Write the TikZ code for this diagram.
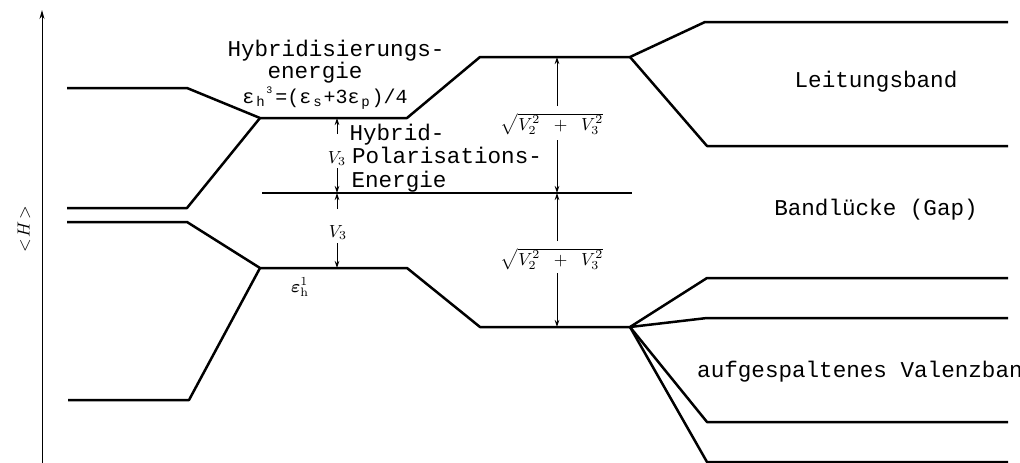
\documentclass[tikz,border=0pt]{standalone}
\usepackage{amsmath}
\usepackage{fontspec}
\setmonofont{Liberation Mono}
\usetikzlibrary{arrows.meta}
\newcommand\tsub[1]{\makebox[0.6em]{\raisebox{-0.3ex}{\fontsize{14}{14}\selectfont #1}}}
\newcommand\tsup[1]{\makebox[0.45em][l]{\raisebox{0.9ex}{\fontsize{10}{10}\selectfont #1}}}
\newcommand\bigmath[1]{\scalebox{1.75}{$#1$}}
\begin{document}
\begin{tikzpicture}[x=1pt,y=-1pt,
  level/.style={line width=2.5pt, line join=round},
  midline/.style={line width=1.6pt},
  dim/.style={line width=0.8pt, -{Stealth[length=7pt,width=4.5pt]}},
  lab/.style={font=\ttfamily\fontsize{22.6}{24}\selectfont, inner sep=0pt, anchor=base},
  flab/.style={font=\ttfamily\fontsize{20}{24}\selectfont, inner sep=0pt, anchor=base},
  mlab/.style={inner sep=0pt, anchor=base}]
\useasboundingbox (0,0) rectangle (1020,463);
% axis
\coordinate (axb) at (42,463);
\coordinate (axt) at (42,10);
\draw[line width=1pt, -{Stealth[length=9pt,width=5pt]}] (axb) -- (axt);
\node[rotate=90, inner sep=0pt] (H) at (24,229) {\bigmath{<\!H\!>}};
% atomic levels
\coordinate (s1a) at (67,88);  \coordinate (s1b) at (187,88);
\coordinate (p1a) at (67,208); \coordinate (p1b) at (187,208);
\coordinate (s2a) at (67,222); \coordinate (s2b) at (187,222);
\coordinate (p2a) at (68,400); \coordinate (p2b) at (189,400);
% hybrid levels
\coordinate (h1a) at (260,118); \coordinate (h1b) at (407,118);
\coordinate (h2a) at (260,268); \coordinate (h2b) at (407,268);
% bonding / antibonding
\coordinate (b1a) at (480,57);  \coordinate (b1b) at (630,57);
\coordinate (b2a) at (480,327); \coordinate (b2b) at (630,327);
% bands
\coordinate (c1a) at (705,22);  \coordinate (c1b) at (1008,22);
\coordinate (c2a) at (707,146); \coordinate (c2b) at (1008,146);
\coordinate (v1a) at (707,278); \coordinate (v1b) at (1008,278);
\coordinate (v2a) at (707,318); \coordinate (v2b) at (1008,318);
\coordinate (v3a) at (707,422); \coordinate (v3b) at (1008,422);
\coordinate (v4a) at (707,462); \coordinate (v4b) at (1008,462);
% middle
\coordinate (m1) at (262,193); \coordinate (m2) at (632,193);

\draw[level] (s1a) -- (s1b) -- (h1a) -- (h1b) -- (b1a) -- (b1b) -- (c1a) -- (c1b);
\draw[level] (p1a) -- (p1b) -- (h1a);
\draw[level] (b1b) -- (c2a) -- (c2b);
\draw[level] (s2a) -- (s2b) -- (h2a) -- (h2b) -- (b2a) -- (b2b) -- (v1a) -- (v1b);
\draw[level] (p2a) -- (p2b) -- (h2a);
\draw[level] (b2b) -- (v2a) -- (v2b);
\draw[level] (b2b) -- (v3a) -- (v3b);
\draw[level] (b2b) -- (v4a) -- (v4b);
\draw[midline] (m1) -- (m2);

% V3 arrows
\coordinate (h1v) at (337,118); \coordinate (mv) at (337,193); \coordinate (h2v) at (337,268);
\coordinate (t1) at (337,134); \coordinate (t2) at (337,168);
\coordinate (t3) at (337,209); \coordinate (t4) at (337,243);
\draw[dim] (t1) -- (h1v);
\draw[dim] (t2) -- (mv);
\draw[dim] (t3) -- (mv);
\draw[dim] (t4) -- (h2v);
% sqrt arrows
\coordinate (b1v) at (557,57); \coordinate (mw) at (557,193); \coordinate (b2v) at (557,327);
\coordinate (t5) at (557,106); \coordinate (t6) at (557,140);
\coordinate (t7) at (557,241); \coordinate (t8) at (557,273);
\draw[dim] (t5) -- (b1v);
\draw[dim] (t6) -- (mw);
\draw[dim] (t7) -- (mw);
\draw[dim] (t8) -- (b2v);

% labels
\node[lab] (hyb1) at (336,56) {Hybridisierungs-};
\node[lab] (hyb2) at (315,78) {energie};
\node[flab] (form) at (325,103) {ε\tsub{h}\tsup{3}=(ε\tsub{s}+3ε\tsub{p})/4};
\node[lab] (hp1) at (397,140) {Hybrid-};
\node[lab] (hp2) at (447,163) {Polarisations-};
\node[lab] (hp3) at (399,187) {Energie};
\node[mlab] (v3u) at (337,163) {\bigmath{V_3}};
\node[mlab] (v3l) at (338,237) {\bigmath{V_3}};
\node[mlab] (sq1) at (552,130) {\bigmath{\sqrt{V_2^2\;\;+\;\;V_3^2}}};
\node[mlab] (sq2) at (552,265) {\bigmath{\sqrt{V_2^2\;\;+\;\;V_3^2}}};
\node[mlab] (eh1) at (300,292) {\bigmath{\boldsymbol{\varepsilon}_{\mathrm h}^{1}}};
\node[lab] (lb) at (876,87) {Leitungsband};
\node[lab] (gap) at (876,215) {Bandlücke (Gap)};
\node[lab, anchor=base west] (vb) at (697,377) {aufgespaltenes Valenzband};
\end{tikzpicture}
\end{document}
